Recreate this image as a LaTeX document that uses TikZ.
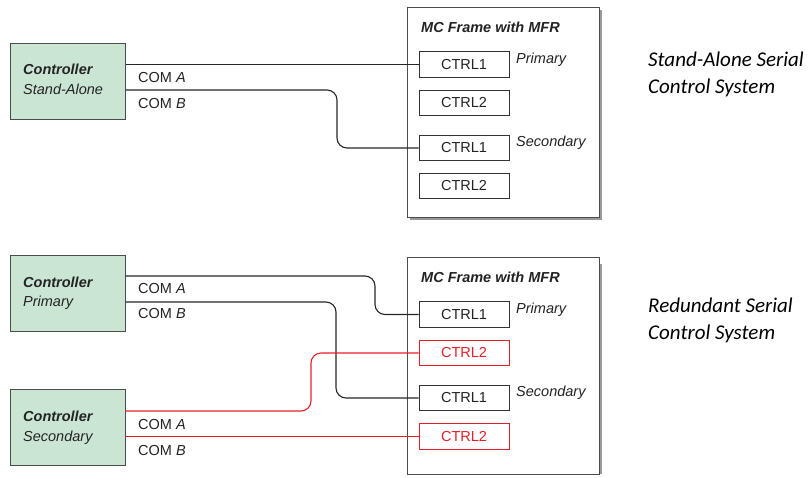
\documentclass[tikz,border=0pt]{standalone}
\usepackage{fontspec}
\setmainfont{Liberation Sans}
\newfontfamily\sidefont{Carlito}
\definecolor{ctrlgreen}{RGB}{203,229,213}
\definecolor{wirered}{RGB}{230,30,40}
\definecolor{ink}{RGB}{35,35,35}
\begin{document}
\begin{tikzpicture}[x=1pt,y=-1pt,
  txt/.style={font=\fontsize{14.5}{17}\selectfont, text=ink, inner sep=0pt, anchor=base west},
  ctrlbox/.style={draw=black!70, fill=ctrlgreen, line width=1pt, minimum width=115pt, minimum height=76pt, inner sep=0pt},
  frame/.style={draw=black!70, fill=white, line width=1pt, minimum width=192pt, minimum height=210pt, inner sep=0pt},
  shadowbox/.style={fill=black!40, draw=none, minimum width=192pt, minimum height=210pt, inner sep=0pt},
  modbox/.style={draw=black!80, fill=white, line width=0.9pt, minimum width=90pt, minimum height=25.5pt, inner sep=0pt, font=\fontsize{14.5}{17}\selectfont, text=ink},
  redmod/.style={modbox, draw=wirered, text=wirered},
  wire/.style={draw=black!85, line width=1.1pt, rounded corners=10pt},
  redwire/.style={wire, draw=wirered},
  side/.style={font=\sidefont\itshape\fontsize{21}{27}\selectfont, text=black, inner sep=0pt, anchor=base west}
]
\useasboundingbox (0,0) rectangle (809,477);

% ---------- top: stand-alone ----------
\node[ctrlbox] (c1) at (67.5,81) {};
\node[txt] (c1a) at (23,74.5) {\textbf{\textit{Controller}}};
\node[txt] (c1b) at (23,94.5) {\textit{Stand-Alone}};

\node[shadowbox] (f1s) at (506,115) {};
\node[frame] (f1) at (503,112) {};
\node[txt] (f1t) at (421,32) {\textbf{\textit{MC Frame with MFR}}};
\node[modbox] (m11) at (464,64.5) {CTRL1};
\node[modbox] (m12) at (464,103) {CTRL2};
\node[modbox] (m13) at (464,148) {CTRL1};
\node[modbox] (m14) at (464,186) {CTRL2};
\node[txt] (p1) at (516,63) {\textit{Primary}};
\node[txt] (s1) at (516,146.5) {\textit{Secondary}};

\node[txt] (ca1) at (138,82) {COM \textit{A}};
\node[txt] (cb1) at (138,108) {COM \textit{B}};

\draw[wire] (m11.west) -- (m11.west -| c1.east);
\draw[wire] (c1.east |- 0,90) -- (337,90) -- (337,148) -- (m13.west);

\node[side] (t1a) at (648,66.5) {Stand-Alone Serial};
\node[side] (t1b) at (648,93.5) {Control System};

% ---------- bottom: redundant ----------
\node[ctrlbox] (c2) at (67.5,293.5) {};
\node[txt] (c2a) at (23,287) {\textbf{\textit{Controller}}};
\node[txt] (c2b) at (23,306) {\textit{Primary}};

\node[ctrlbox] (c3) at (67.5,427.5) {};
\node[txt] (c3a) at (23,421.5) {\textbf{\textit{Controller}}};
\node[txt] (c3b) at (23,441) {\textit{Secondary}};

\node[shadowbox] (f2s) at (506,368.5) {};
\node[frame, minimum height=217pt] (f2) at (503,365.5) {};
\node[txt] (f2t) at (421,282) {\textbf{\textit{MC Frame with MFR}}};
\node[modbox] (m21) at (464,314.5) {CTRL1};
\node[redmod] (m22) at (464,353) {CTRL2};
\node[modbox] (m23) at (464,398) {CTRL1};
\node[redmod] (m24) at (464,436.3) {CTRL2};
\node[txt] (p2) at (516,313) {\textit{Primary}};
\node[txt] (s2) at (516,396.5) {\textit{Secondary}};

\node[txt] (ca2) at (138,293) {COM \textit{A}};
\node[txt] (cb2) at (138,318) {COM \textit{B}};
\node[txt] (ca3) at (138,429) {COM \textit{A}};
\node[txt] (cb3) at (138,455) {COM \textit{B}};

\draw[wire] (c2.east |- 0,276) -- (375,276) -- (375,314.5) -- (m21.west);
\draw[wire] (c2.east |- 0,302) -- (336,302) -- (336,398) -- (m23.west);
\draw[redwire] (c3.east |- 0,411) -- (311,411) -- (311,353) -- (m22.west);
\draw[redwire] (m24.west) -- (m24.west -| c3.east);

\node[side] (t2a) at (648,312) {Redundant Serial};
\node[side] (t2b) at (648,339) {Control System};
\end{tikzpicture}
\end{document}
